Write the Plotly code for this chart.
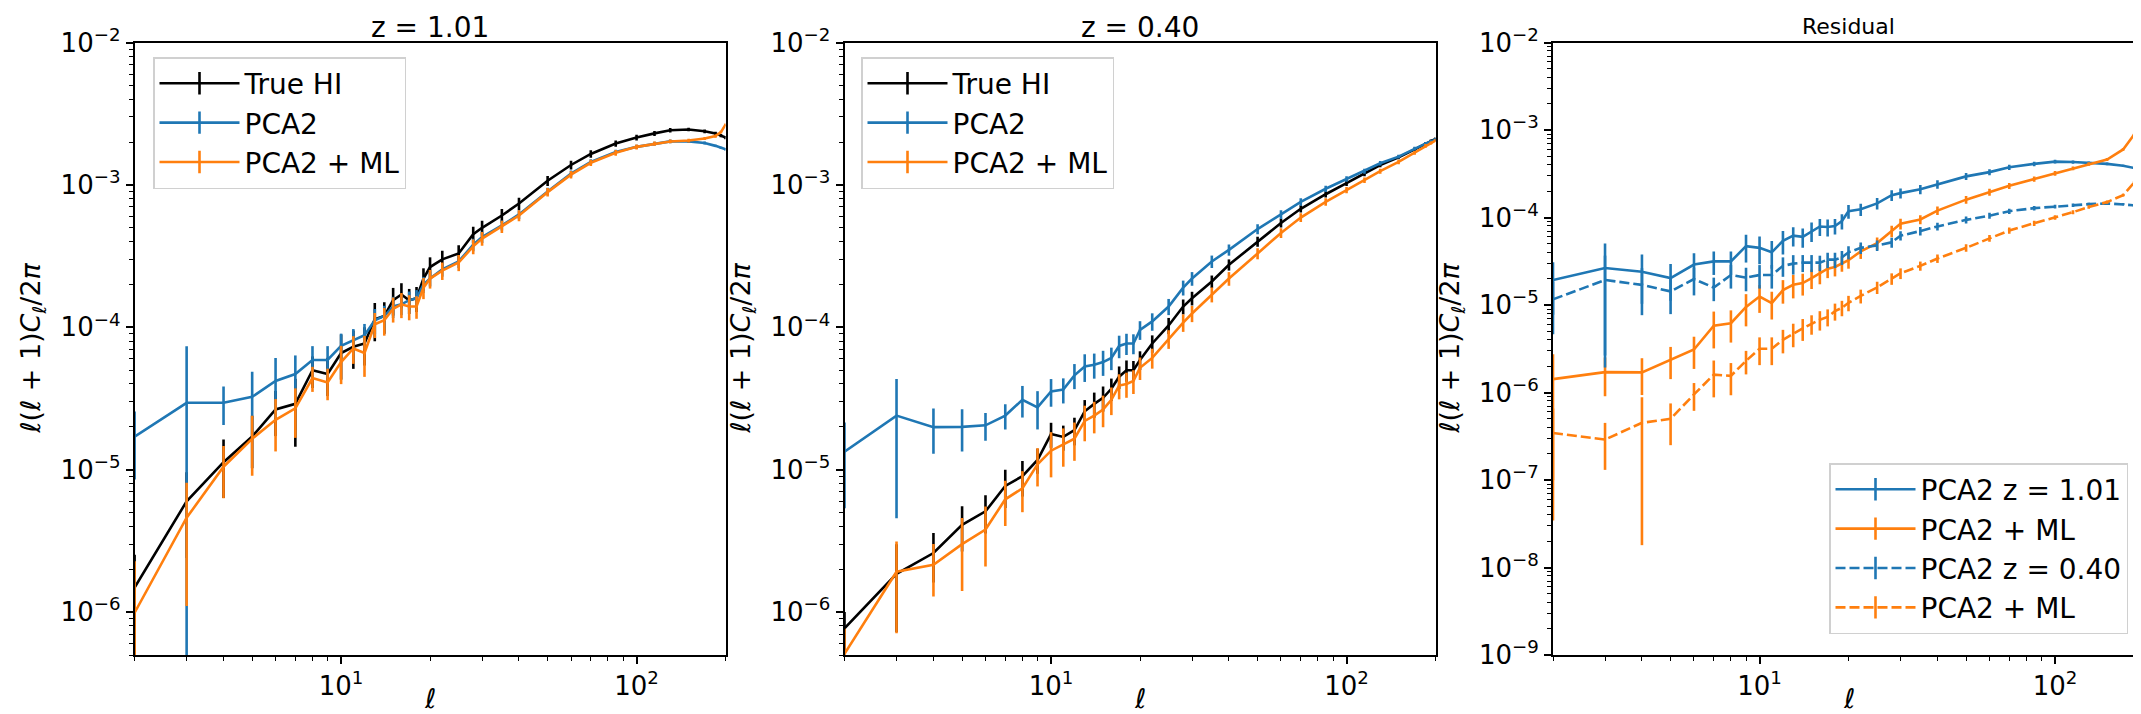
import plotly.graph_objects as go

# ---------------- data ----------------
ell = [2, 3, 4, 5, 6, 7, 8, 9, 10, 11, 12, 13, 14, 15, 16, 17, 18, 19, 20,
       22, 25, 28, 30, 35, 40, 50, 60, 70, 85, 100, 115, 130, 150, 170, 185, 193, 200]

# panel 1 : z = 1.01
z1_true = [1.49e-6, 6.0e-6, 1.13e-5, 1.71e-5, 2.65e-5, 2.9e-5, 5.0e-5, 4.7e-5, 6.6e-5, 7.3e-5,
           7.7e-5, 1.14e-4, 1.2e-4, 1.55e-4, 1.7e-4, 1.55e-4, 1.6e-4, 2.2e-4, 2.65e-4,
           3.0e-4, 3.3e-4, 4.5e-4, 5.0e-4, 6.1e-4, 7.4e-4, 1.07e-3, 1.38e-3, 1.65e-3, 1.95e-3,
           2.15e-3, 2.3e-3, 2.42e-3, 2.45e-3, 2.38e-3, 2.3e-3, 2.22e-3, 2.15e-3]
z1_pca = [1.71e-5, 2.95e-5, 2.95e-5, 3.25e-5, 4.2e-5, 4.7e-5, 5.9e-5, 5.9e-5, 7.4e-5, 8.1e-5,
          8.8e-5, 1.12e-4, 1.2e-4, 1.4e-4, 1.45e-4, 1.55e-4, 1.6e-4, 2.0e-4, 2.2e-4,
          2.55e-4, 2.9e-4, 3.8e-4, 4.3e-4, 5.2e-4, 6.2e-4, 9.0e-4, 1.2e-3, 1.45e-3, 1.7e-3,
          1.85e-3, 1.95e-3, 2.02e-3, 2.02e-3, 1.97e-3, 1.88e-3, 1.82e-3, 1.78e-3]
z1_ml = [9.9e-7, 4.6e-6, 1.05e-5, 1.65e-5, 2.24e-5, 2.7e-5, 4.4e-5, 4.1e-5, 5.7e-5, 7.1e-5,
         6.6e-5, 1.05e-4, 1.12e-4, 1.35e-4, 1.45e-4, 1.4e-4, 1.4e-4, 1.9e-4, 2.2e-4,
         2.5e-4, 2.85e-4, 3.7e-4, 4.2e-4, 5.1e-4, 6.1e-4, 8.9e-4, 1.18e-3, 1.43e-3, 1.68e-3,
         1.85e-3, 1.95e-3, 2.02e-3, 2.05e-3, 2.12e-3, 2.2e-3, 2.35e-3, 2.65e-3]
z1_true_rel = [0.7, 0.6, 0.44, 0.4, 0.35, 0.5, 0.25, 0.3, 0.35, 0.3, 0.3, 0.3, 0.25, 0.22, 0.2,
               0.2, 0.2, 0.18, 0.17, 0.15, 0.14, 0.13, 0.12, 0.11, 0.1, 0.08, 0.07, 0.06, 0.05,
               0.045, 0.04, 0.035, 0.03, 0.03, 0.025, 0.025, 0.025]
z1_pca_rel = [0.5, 1.5, 0.3, 0.5, 0.45, 0.35, 0.25, 0.25, 0.22, 0.2, 0.2, 0.2, 0.18, 0.17, 0.16,
              0.15, 0.14, 0.13, 0.12, 0.11, 0.1, 0.1, 0.09, 0.08, 0.07, 0.06, 0.05, 0.045, 0.04,
              0.035, 0.03, 0.03, 0.025, 0.025, 0.02, 0.02, 0.02]
z1_ml_rel = [1.3, 0.76, 0.4, 0.45, 0.4, 0.38, 0.2, 0.25, 0.3, 0.22, 0.32, 0.2, 0.22, 0.2, 0.2,
             0.2, 0.18, 0.17, 0.15, 0.14, 0.13, 0.12, 0.11, 0.1, 0.09, 0.07, 0.06, 0.05, 0.045,
             0.04, 0.035, 0.03, 0.03, 0.025, 0.025, 0.02, 0.02]

# panel 2 : z = 0.40
z2_true = [7.7e-7, 1.86e-6, 2.6e-6, 4.1e-6, 5.1e-6, 7.7e-6, 9.0e-6, 1.17e-5, 1.78e-5, 1.7e-5,
           1.9e-5, 2.57e-5, 2.9e-5, 3.2e-5, 3.7e-5, 4.5e-5, 5.0e-5, 5.0e-5, 5.9e-5,
           7.7e-5, 1.03e-4, 1.4e-4, 1.6e-4, 2.1e-4, 2.75e-4, 4.0e-4, 5.4e-4, 6.8e-4, 8.6e-4,
           1.03e-3, 1.2e-3, 1.38e-3, 1.56e-3, 1.78e-3, 1.95e-3, 2.03e-3, 2.1e-3]
z2_pca = [1.34e-5, 2.4e-5, 1.99e-5, 2.0e-5, 2.05e-5, 2.4e-5, 3.1e-5, 2.74e-5, 3.55e-5, 3.65e-5,
          4.6e-5, 5.3e-5, 5.45e-5, 5.7e-5, 6.1e-5, 7.4e-5, 7.7e-5, 7.7e-5, 9.6e-5,
          1.1e-4, 1.4e-4, 1.9e-4, 2.2e-4, 2.9e-4, 3.5e-4, 4.9e-4, 6.2e-4, 7.6e-4, 9.4e-4,
          1.1e-3, 1.25e-3, 1.42e-3, 1.58e-3, 1.8e-3, 1.95e-3, 2.02e-3, 2.08e-3]
z2_ml = [5.1e-7, 1.92e-6, 2.15e-6, 3.0e-6, 3.8e-6, 6.2e-6, 7.4e-6, 1.09e-5, 1.36e-5, 1.5e-5,
         1.65e-5, 2.2e-5, 2.4e-5, 2.65e-5, 3.1e-5, 3.9e-5, 4.0e-5, 4.2e-5, 5.2e-5,
         6.1e-5, 8.3e-5, 1.08e-4, 1.25e-4, 1.7e-4, 2.2e-4, 3.3e-4, 4.6e-4, 5.9e-4, 7.6e-4,
         9.2e-4, 1.08e-3, 1.25e-3, 1.45e-3, 1.68e-3, 1.88e-3, 1.97e-3, 2.05e-3]
z2_true_rel = [0.3, 0.61, 0.38, 0.35, 0.3, 0.3, 0.28, 0.2, 0.2, 0.2, 0.22, 0.2, 0.2, 0.2, 0.18,
               0.18, 0.17, 0.16, 0.15, 0.14, 0.13, 0.12, 0.11, 0.1, 0.09, 0.08, 0.07, 0.06, 0.05,
               0.045, 0.04, 0.035, 0.03, 0.03, 0.025, 0.025, 0.025]
z2_pca_rel = [0.6, 0.81, 0.35, 0.33, 0.22, 0.2, 0.25, 0.3, 0.22, 0.2, 0.2, 0.22, 0.2, 0.2, 0.18,
              0.18, 0.17, 0.16, 0.15, 0.14, 0.13, 0.12, 0.11, 0.1, 0.09, 0.08, 0.07, 0.06, 0.05,
              0.045, 0.04, 0.035, 0.03, 0.03, 0.025, 0.025, 0.025]
z2_ml_rel = [0.5, 0.63, 0.4, 0.53, 0.45, 0.35, 0.32, 0.3, 0.35, 0.3, 0.3, 0.28, 0.25, 0.25, 0.22,
             0.2, 0.2, 0.19, 0.18, 0.16, 0.15, 0.14, 0.13, 0.12, 0.11, 0.09, 0.08, 0.07, 0.06,
             0.05, 0.045, 0.04, 0.035, 0.03, 0.03, 0.025, 0.025]

# panel 3 : residuals
r1_pca = [1.93e-5, 2.65e-5, 2.4e-5, 2.03e-5, 2.9e-5, 3.15e-5, 3.15e-5, 4.7e-5, 4.5e-5, 4.0e-5,
          5.4e-5, 6.2e-5, 6.0e-5, 7.0e-5, 7.9e-5, 7.8e-5, 8.0e-5, 9.1e-5, 1.18e-4,
          1.24e-4, 1.45e-4, 1.8e-4, 1.9e-4, 2.1e-4, 2.4e-4, 2.95e-4, 3.3e-4, 3.75e-4, 4.1e-4,
          4.35e-4, 4.3e-4, 4.2e-4, 4.1e-4, 3.9e-4, 3.7e-4, 3.6e-4, 3.5e-4]
r1_ml = [1.42e-6, 1.71e-6, 1.7e-6, 2.37e-6, 3.1e-6, 5.8e-6, 6.2e-6, 9.5e-6, 1.25e-5, 1.05e-5,
         1.48e-5, 1.7e-5, 1.78e-5, 2.03e-5, 2.3e-5, 2.6e-5, 2.72e-5, 3.0e-5, 3.25e-5,
         4.1e-5, 5.1e-5, 7.0e-5, 8.5e-5, 9.5e-5, 1.2e-4, 1.6e-4, 1.95e-4, 2.3e-4, 2.75e-4,
         3.2e-4, 3.65e-4, 4.1e-4, 4.6e-4, 6.0e-4, 8.8e-4, 1.25e-3, 1.6e-3]
r2_pca = [1.16e-5, 1.93e-5, 1.7e-5, 1.43e-5, 1.98e-5, 1.58e-5, 2.2e-5, 2.05e-5, 2.2e-5, 2.2e-5,
          2.8e-5, 2.97e-5, 3.05e-5, 3.05e-5, 3.05e-5, 3.3e-5, 3.3e-5, 3.5e-5, 4.0e-5,
          4.5e-5, 4.8e-5, 5.2e-5, 6.2e-5, 7.0e-5, 7.9e-5, 9.4e-5, 1.05e-4, 1.18e-4, 1.28e-4,
          1.33e-4, 1.38e-4, 1.42e-4, 1.45e-4, 1.42e-4, 1.38e-4, 1.36e-4, 1.35e-4]
r2_ml = [3.45e-7, 2.9e-7, 4.5e-7, 5.0e-7, 9.5e-7, 1.6e-6, 1.55e-6, 2.3e-6, 3.16e-6, 3.16e-6,
         4.0e-6, 4.7e-6, 5.4e-6, 6.1e-6, 6.8e-6, 7.3e-6, 8.5e-6, 9.3e-6, 1.06e-5,
         1.27e-5, 1.59e-5, 2.0e-5, 2.3e-5, 2.8e-5, 3.4e-5, 4.5e-5, 5.8e-5, 7.1e-5, 8.6e-5,
         1.0e-4, 1.15e-4, 1.32e-4, 1.5e-4, 1.8e-4, 2.5e-4, 3.4e-4, 4.5e-4]
r1_pca_rel = [0.6, 0.9, 0.57, 0.45, 0.35, 0.3, 0.3, 0.35, 0.35, 0.35, 0.3, 0.25, 0.25, 0.25, 0.22,
              0.22, 0.2, 0.2, 0.18, 0.16, 0.15, 0.14, 0.13, 0.12, 0.11, 0.09, 0.08, 0.07, 0.06,
              0.05, 0.045, 0.04, 0.035, 0.03, 0.03, 0.025, 0.025]
r1_ml_rel = [0.93, 0.47, 0.45, 0.4, 0.4, 0.45, 0.4, 0.4, 0.35, 0.35, 0.3, 0.3, 0.28, 0.25, 0.25,
             0.22, 0.22, 0.2, 0.2, 0.18, 0.16, 0.15, 0.14, 0.12, 0.11, 0.1, 0.09, 0.08, 0.07,
             0.06, 0.05, 0.045, 0.04, 0.035, 0.03, 0.03, 0.03]
r2_pca_rel = [0.6, 0.9, 0.55, 0.45, 0.35, 0.3, 0.3, 0.3, 0.3, 0.3, 0.25, 0.25, 0.22, 0.22, 0.2,
              0.2, 0.2, 0.18, 0.17, 0.15, 0.14, 0.13, 0.12, 0.11, 0.1, 0.09, 0.08, 0.07, 0.06,
              0.05, 0.045, 0.04, 0.035, 0.03, 0.03, 0.025, 0.025]
r2_ml_rel = [0.9, 0.55, 0.96, 0.5, 0.35, 0.45, 0.4, 0.3, 0.35, 0.35, 0.3, 0.3, 0.28, 0.25, 0.25,
             0.22, 0.22, 0.2, 0.2, 0.18, 0.16, 0.15, 0.14, 0.12, 0.11, 0.1, 0.09, 0.08, 0.07,
             0.06, 0.05, 0.045, 0.04, 0.035, 0.03, 0.03, 0.03]

titles = ["z = 1.01", "z = 0.40", "Residual"]
legend_names_12 = ["True HI", "PCA2", "PCA2 + ML"]
legend_names_3 = ["PCA2 z = 1.01", "PCA2 + ML", "PCA2 z = 0.40", "PCA2 + ML"]

# ---------------- styling ----------------
BLUE, ORANGE, BLACK = "#1f77b4", "#ff7f0e", "#000000"
FONT = "DejaVu Sans"
W, H = 2141, 714
OFF = 8  # the page body adds an 8px margin; layout positions are page positions minus OFF
LW = 2.6
DASH = "10px,4px"

fig = go.Figure()


def add_series(y, rel, color, ax, dash="solid"):
    err = [v * r for v, r in zip(y, rel)]
    fig.add_trace(go.Scatter(
        x=ell, y=y, mode="lines", showlegend=False, hoverinfo="skip",
        line=dict(color=color, width=LW, dash=dash),
        error_y=dict(type="data", array=err, visible=True, width=0, thickness=LW, color=color),
        xaxis="x" + ax, yaxis="y" + ax))


def add_legend_item(name, color, ax, leg, group, dash="solid"):
    fig.add_trace(go.Scatter(
        x=[None], y=[None], mode="lines+markers", name=name, legend=leg, legendgroup=group,
        line=dict(color=color, width=LW, dash=dash),
        marker=dict(symbol="line-ns", size=20, color=color, line=dict(color=color, width=LW)),
        xaxis="x" + ax, yaxis="y" + ax))


# panel 1
add_series(z1_true, z1_true_rel, BLACK, "")
add_series(z1_pca, z1_pca_rel, BLUE, "")
add_series(z1_ml, z1_ml_rel, ORANGE, "")
# panel 2
add_series(z2_true, z2_true_rel, BLACK, "2")
add_series(z2_pca, z2_pca_rel, BLUE, "2")
add_series(z2_ml, z2_ml_rel, ORANGE, "2")
# panel 3
add_series(r1_pca, r1_pca_rel, BLUE, "3")
add_series(r1_ml, r1_ml_rel, ORANGE, "3")
add_series(r2_pca, r2_pca_rel, BLUE, "3", DASH)
add_series(r2_ml, r2_ml_rel, ORANGE, "3", DASH)

for i, (nm, c) in enumerate(zip(legend_names_12, [BLACK, BLUE, ORANGE])):
    add_legend_item(nm, c, "", "legend", "a%d" % i)
    add_legend_item(nm, c, "2", "legend2", "b%d" % i)
for i, (nm, c, d) in enumerate(zip(legend_names_3, [BLUE, ORANGE, BLUE, ORANGE],
                                    ["solid", "solid", DASH, DASH])):
    add_legend_item(nm, c, "3", "legend3", "c%d" % i, d)


def px(xp):
    return (xp - OFF) / W


def py(yp):
    return 1 - (yp - OFF) / H


# ---------------- axes ----------------
ytop, ybot = 42.5, 655.0
ydom = [py(ybot), py(ytop)]
xdoms = [[px(134.6), px(725.5)], [px(844.5), px(1435.5)], [px(1553.0), px(2144.0)]]
xrange_ = [0.30103, 2.30103]
yranges = [[-6.30103, -2.0], [-6.30103, -2.0], [-9.0, -2.0]]


def sup(n):
    return "10<sup>" + str(n).replace("-", "\u2212") + "</sup>"


def minor_vals(lo, hi):
    out = []
    for d in range(lo, hi + 1):
        for k in range(2, 10):
            out.append(k * 10.0 ** d)
    return out


tickfont = dict(family=FONT, size=26, color="black")
for i in range(3):
    sfx = "" if i == 0 else str(i + 1)
    fig.layout["xaxis" + sfx] = dict(
        type="log", domain=xdoms[i], range=xrange_, anchor="y" + sfx, automargin=False,
        showline=True, linecolor="black", linewidth=1.8, mirror=True,
        ticks="outside", ticklen=7, tickwidth=1.6, tickcolor="black",
        tickmode="array", tickvals=[10, 100], ticktext=[sup(1), sup(2)],
        tickfont=tickfont, showgrid=False, zeroline=False,
        minor=dict(ticks="outside", ticklen=4, tickwidth=1.2, tickcolor="black",
                   tickmode="array", tickvals=minor_vals(0, 2), showgrid=False))
    ylo = -9 if i == 2 else -6
    fig.layout["yaxis" + sfx] = dict(
        type="log", domain=ydom, range=yranges[i], anchor="x" + sfx, automargin=False,
        showline=True, linecolor="black", linewidth=1.8, mirror=True,
        ticks="outside", ticklen=7, tickwidth=1.6, tickcolor="black",
        tickmode="array", tickvals=[10.0 ** d for d in range(ylo, -1)],
        ticktext=[sup(d) for d in range(ylo, -1)],
        tickfont=tickfont, showgrid=False, zeroline=False,
        minor=dict(ticks="outside", ticklen=4, tickwidth=1.2, tickcolor="black",
                   tickmode="array", tickvals=minor_vals(ylo - 1, -3), showgrid=False))

# ---------------- legends ----------------
legfont = dict(family=FONT, size=28, color="black")
legbase = dict(font=legfont, bgcolor="rgba(255,255,255,0.8)", bordercolor="#d0d0d0",
               borderwidth=1.5, tracegroupgap=0, itemwidth=80, traceorder="grouped")
fig.update_layout(
    legend=dict(x=px(153), y=py(57), xanchor="left", yanchor="top", **legbase),
    legend2=dict(x=px(861), y=py(57), xanchor="left", yanchor="top", **legbase),
    legend3=dict(x=px(2128), y=py(634), xanchor="right", yanchor="bottom", **legbase),
)

# ---------------- titles / axis labels ----------------
ylab = "<i>ℓ</i>(<i>ℓ</i> + 1)<i>C</i><sub><i>ℓ</i></sub>/2<i>π</i>"
centers = [(134.6 + 725.5) / 2, (844.5 + 1435.5) / 2, (1553.0 + 2144.0) / 2]
ylab_x = [33, 743, 1452]
ymid = py((ytop + ybot) / 2)
ann = []
for i in range(3):
    ann.append(dict(text=titles[i], x=px(centers[i]), y=py(27 if i < 2 else 26),
                    xref="paper", yref="paper", xanchor="center", yanchor="middle",
                    showarrow=False,
                    font=dict(family=FONT, size=28 if i < 2 else 22, color="black")))
    ann.append(dict(text="<i>ℓ</i>", x=px(centers[i]), y=py(698), xref="paper", yref="paper",
                    xanchor="center", yanchor="middle", showarrow=False,
                    font=dict(family=FONT, size=27, color="black")))
    ann.append(dict(text=ylab, x=px(ylab_x[i]), y=ymid, xref="paper", yref="paper",
                    xanchor="center", yanchor="middle", textangle=-90, showarrow=False,
                    font=dict(family=FONT, size=27, color="black")))

fig.update_layout(
    width=W, height=H, autosize=False,
    margin=dict(l=0, r=0, t=0, b=0, pad=0, autoexpand=False),
    paper_bgcolor="white", plot_bgcolor="white",
    font=dict(family=FONT, size=27, color="black"),
    annotations=ann,
)

fig.write_html("out.html")
